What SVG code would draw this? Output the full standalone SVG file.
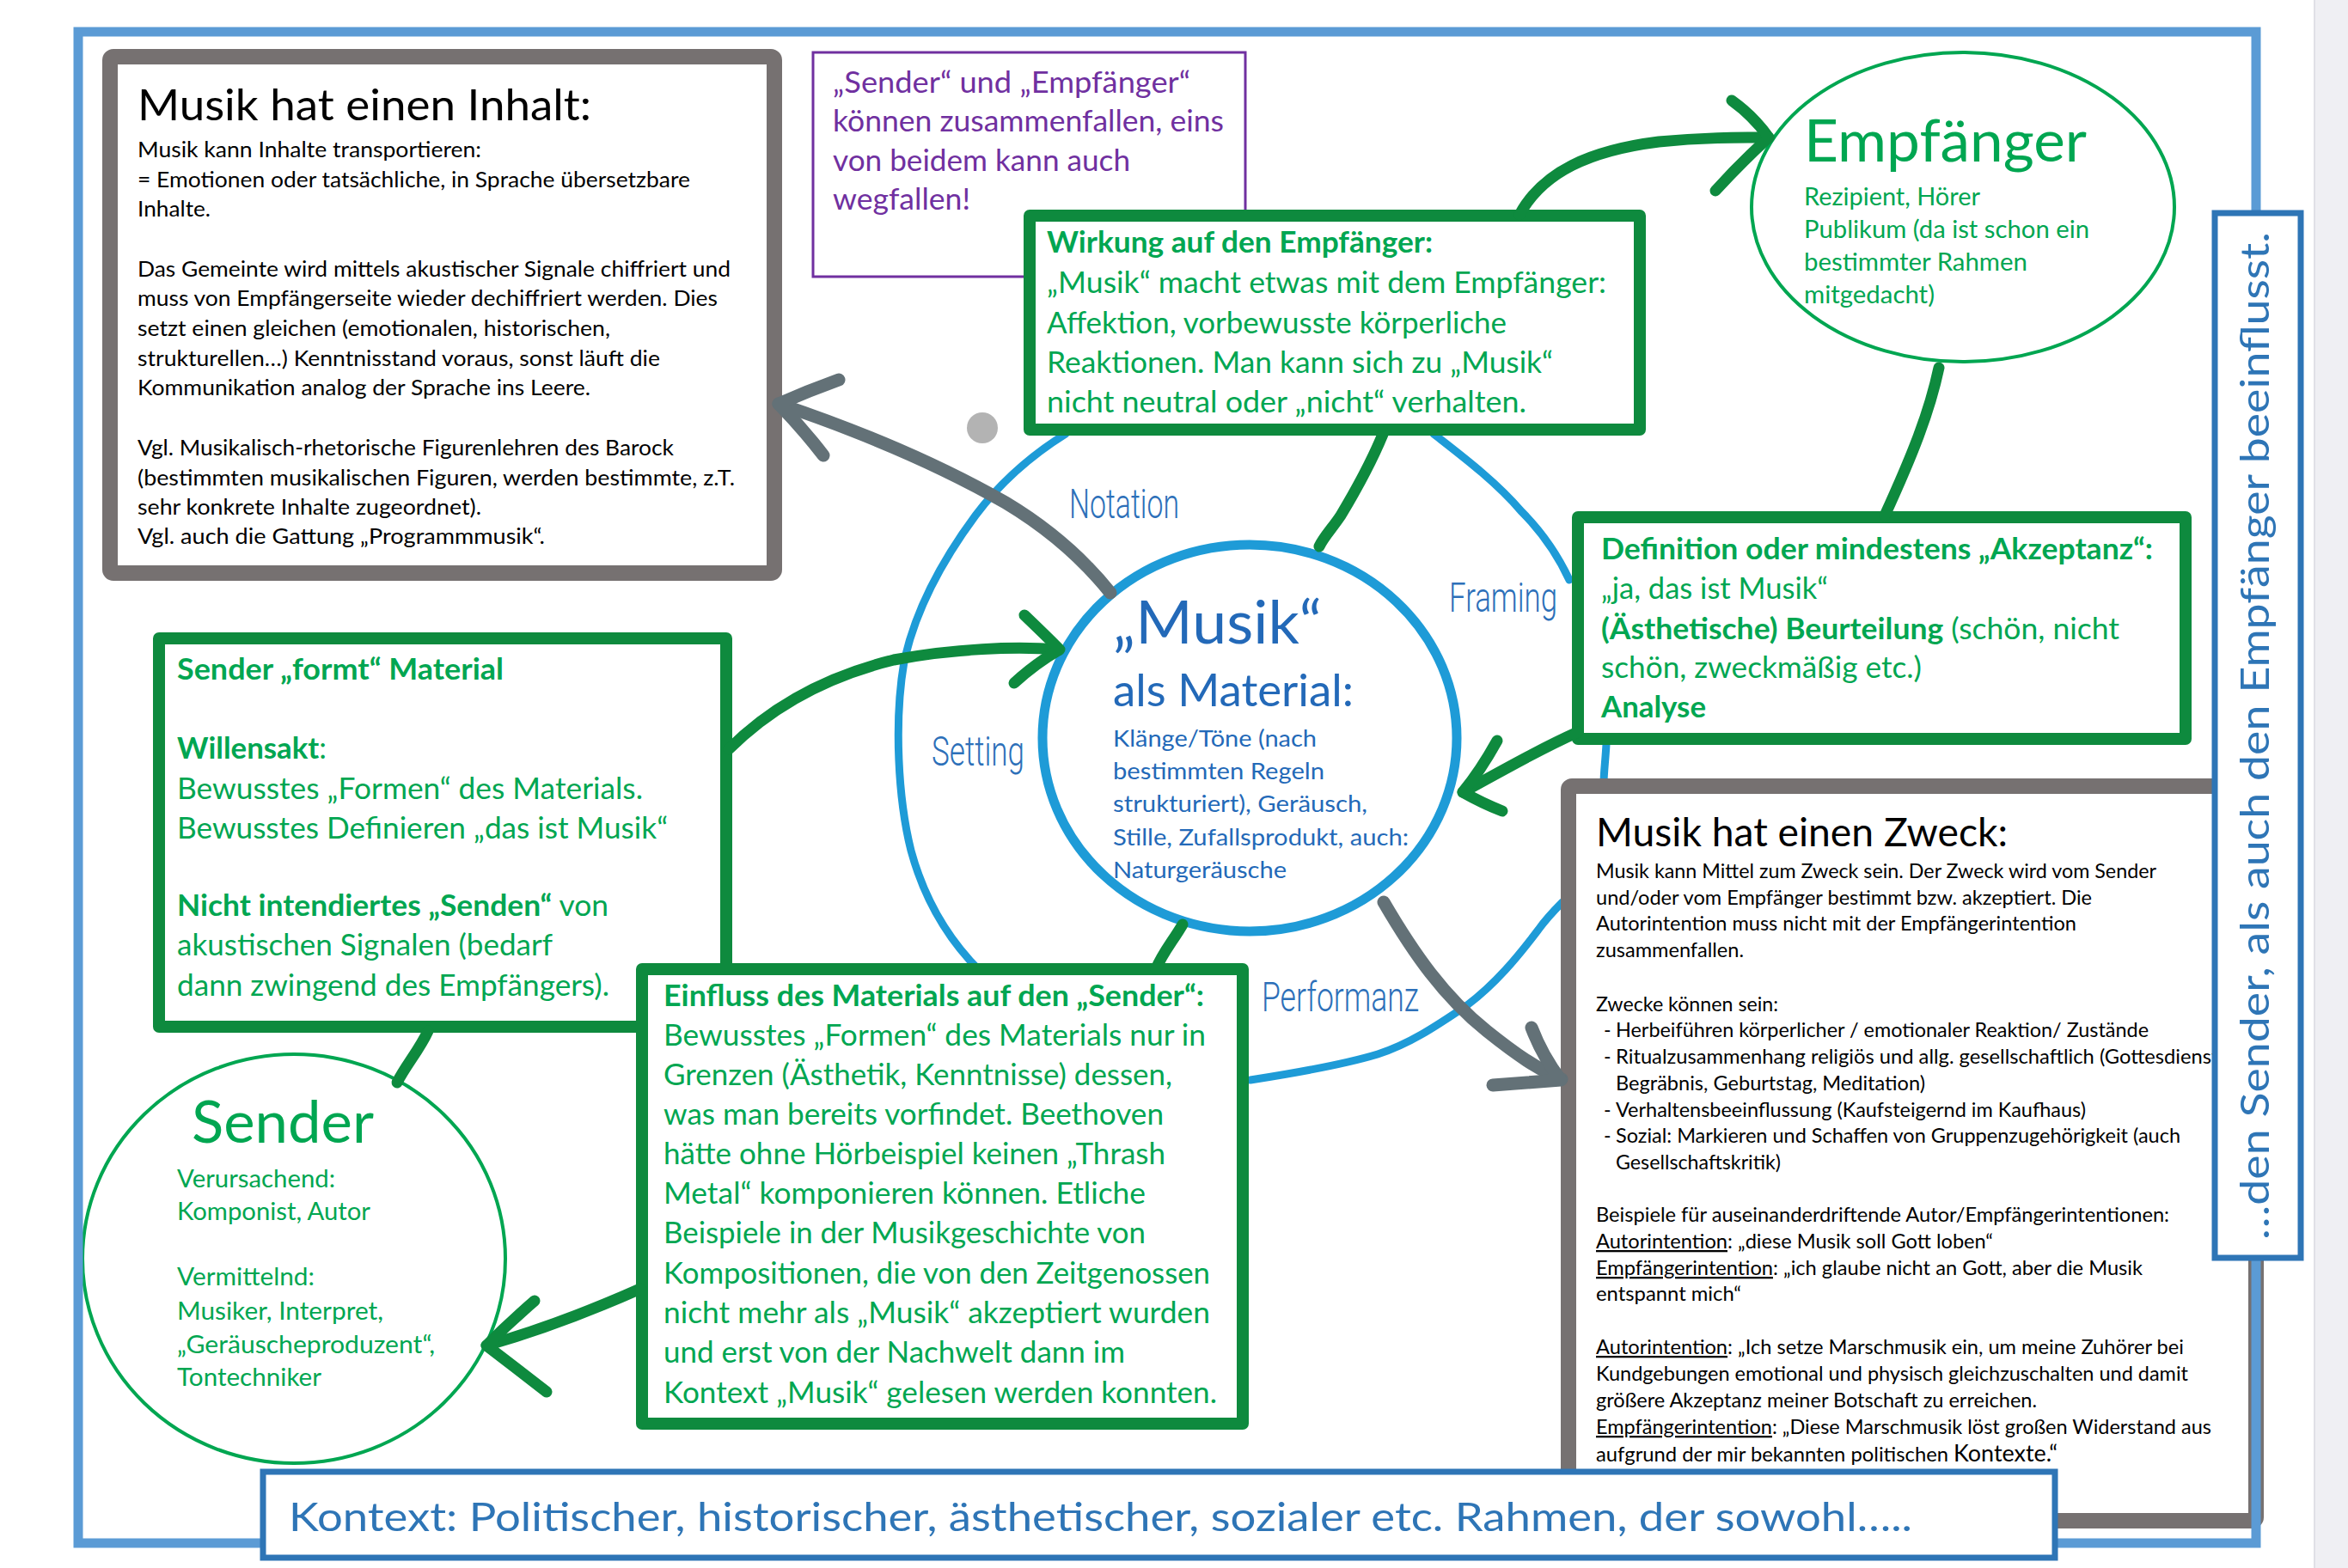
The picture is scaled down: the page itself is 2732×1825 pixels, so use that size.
<svg xmlns="http://www.w3.org/2000/svg" width="2732" height="1825" viewBox="0 0 2732 1825">
<style>
text{font-family:Lato,'Open Sans',sans-serif}
.g{fill:#00A651}
.b{font-weight:700}
.k{fill:#000}
.bl{fill:#2369B8}
.p{fill:#7030A0}
.lab{font-family:Roboto,'Liberation Sans',sans-serif;font-weight:300;fill:#2D70B9;font-size:48px}
.gbox{fill:#fff;stroke:#0E8A3E;stroke-width:14;stroke-linejoin:round}
.grey{fill:#fff;stroke:#767171;stroke-width:18;stroke-linejoin:round}
.gc{fill:none;stroke:#0E8A3E;stroke-width:13;stroke-linecap:round;stroke-linejoin:round}
.sc{fill:none;stroke:#637177;stroke-width:15;stroke-linecap:round;stroke-linejoin:round}
.loop{fill:none;stroke:#1E9BD7;stroke-width:9;stroke-linecap:round;stroke-linejoin:round}
.circ{fill:#fff;stroke:#00A651;stroke-width:4}
.u{text-decoration:underline}
</style>
<rect x="0" y="0" width="2732" height="1825" fill="#fff"/>
<rect x="2693" y="0" width="39" height="1825" fill="#EFEFF3"/>
<line x1="2693" y1="0" x2="2693" y2="1825" stroke="#E0E0E6" stroke-width="2"/>

<g id="loop">
<path class="loop" d="M1240,505 C1200,530 1165,560 1135,600 C1098,650 1065,710 1052,770 C1040,840 1045,930 1060,990 C1075,1045 1100,1090 1140,1130"/>
<path class="loop" d="M1668,505 C1700,530 1740,560 1770,595 C1795,620 1812,645 1826,675"/>
<path class="loop" d="M1869,866 C1868,885 1866,900 1866,912"/>
<path class="loop" d="M1455,1257 C1500,1250 1560,1240 1603,1227 C1640,1215 1670,1195 1707,1170 C1740,1145 1765,1115 1790,1082 C1800,1068 1810,1058 1818,1050"/>
</g>

<g id="inhalt">
<rect class="grey" x="128" y="66" width="773" height="601" rx="4"/>
<text class="k" x="160" y="140" font-size="51" textLength="528" lengthAdjust="spacingAndGlyphs">Musik hat einen Inhalt:</text>
<g class="k" font-size="25.8">
<text x="160" y="183" textLength="400" lengthAdjust="spacingAndGlyphs">Musik kann Inhalte transportieren:</text>
<text x="160" y="218" textLength="643" lengthAdjust="spacingAndGlyphs">= Emotionen oder tatsächliche, in Sprache übersetzbare</text>
<text x="160" y="252" textLength="85" lengthAdjust="spacingAndGlyphs">Inhalte.</text>
<text x="160" y="322" textLength="690" lengthAdjust="spacingAndGlyphs">Das Gemeinte wird mittels akustischer Signale chiffriert und</text>
<text x="160" y="356" textLength="675" lengthAdjust="spacingAndGlyphs">muss von Empfängerseite wieder dechiffriert werden. Dies</text>
<text x="160" y="391" textLength="550" lengthAdjust="spacingAndGlyphs">setzt einen gleichen (emotionalen, historischen,</text>
<text x="160" y="426" textLength="608" lengthAdjust="spacingAndGlyphs">strukturellen…) Kenntnisstand voraus, sonst läuft die</text>
<text x="160" y="460" textLength="527" lengthAdjust="spacingAndGlyphs">Kommunikation analog der Sprache ins Leere.</text>
<text x="160" y="530" textLength="624" lengthAdjust="spacingAndGlyphs">Vgl. Musikalisch-rhetorische Figurenlehren des Barock</text>
<text x="160" y="565" textLength="695" lengthAdjust="spacingAndGlyphs">(bestimmten musikalischen Figuren, werden bestimmte, z.T.</text>
<text x="160" y="599" textLength="400" lengthAdjust="spacingAndGlyphs">sehr konkrete Inhalte zugeordnet).</text>
<text x="160" y="633" textLength="474" lengthAdjust="spacingAndGlyphs">Vgl. auch die Gattung „Programmmusik“.</text>
</g>
</g>

<g id="hinweis">
<rect x="946" y="61" width="503" height="261" fill="#fff" stroke="#7030A0" stroke-width="3"/>
<g class="p" font-size="34">
<text x="969" y="108" textLength="416" lengthAdjust="spacingAndGlyphs">„Sender“ und „Empfänger“</text>
<text x="969" y="153" textLength="455" lengthAdjust="spacingAndGlyphs">können zusammenfallen, eins</text>
<text x="969" y="199" textLength="346" lengthAdjust="spacingAndGlyphs">von beidem kann auch</text>
<text x="969" y="244" textLength="160" lengthAdjust="spacingAndGlyphs">wegfallen!</text>
</g>
</g>

<g id="wirkung">
<rect class="gbox" x="1198" y="251" width="710" height="249"/>
<g class="g" font-size="34.5">
<text class="b" x="1218" y="294" textLength="449" lengthAdjust="spacingAndGlyphs">Wirkung auf den Empfänger:</text>
<text x="1218" y="341" textLength="651" lengthAdjust="spacingAndGlyphs">„Musik“ macht etwas mit dem Empfänger:</text>
<text x="1218" y="388" textLength="535" lengthAdjust="spacingAndGlyphs">Affektion, vorbewusste körperliche</text>
<text x="1218" y="434" textLength="589" lengthAdjust="spacingAndGlyphs">Reaktionen. Man kann sich zu „Musik“</text>
<text x="1218" y="480" textLength="558" lengthAdjust="spacingAndGlyphs">nicht neutral oder „nicht“ verhalten.</text>
</g>
</g>

<g id="empfaenger">
<ellipse class="circ" cx="2284" cy="241" rx="246" ry="180"/>
<text class="g" x="2099" y="188" font-size="68" textLength="329" lengthAdjust="spacingAndGlyphs">Empfänger</text>
<g class="g" font-size="28.5">
<text x="2099" y="239" textLength="205" lengthAdjust="spacingAndGlyphs">Rezipient, Hörer</text>
<text x="2099" y="277" textLength="332" lengthAdjust="spacingAndGlyphs">Publikum (da ist schon ein</text>
<text x="2099" y="315" textLength="260" lengthAdjust="spacingAndGlyphs">bestimmter Rahmen</text>
<text x="2099" y="353" textLength="152" lengthAdjust="spacingAndGlyphs">mitgedacht)</text>
</g>
</g>

<g id="definition">
<rect class="gbox" x="1836" y="602" width="707" height="258"/>
<g class="g" font-size="34">
<text class="b" x="1863" y="651" textLength="642" lengthAdjust="spacingAndGlyphs">Definition oder mindestens „Akzeptanz“:</text>
<text x="1863" y="697" textLength="264" lengthAdjust="spacingAndGlyphs">„ja, das ist Musik“</text>
<text x="1863" y="744" textLength="603" lengthAdjust="spacingAndGlyphs"><tspan class="b">(Ästhetische) Beurteilung</tspan> (schön, nicht</text>
<text x="1863" y="789" textLength="373" lengthAdjust="spacingAndGlyphs">schön, zweckmäßig etc.)</text>
<text class="b" x="1863" y="835" textLength="122" lengthAdjust="spacingAndGlyphs">Analyse</text>
</g>
</g>

<g id="zweck">
<rect class="grey" x="1825" y="915" width="800" height="855" rx="4"/>
<text class="k" x="1857" y="985" font-size="46" textLength="479" lengthAdjust="spacingAndGlyphs">Musik hat einen Zweck:</text>
<g class="k" font-size="23">
<text x="1857" y="1022" textLength="652" lengthAdjust="spacingAndGlyphs">Musik kann Mittel zum Zweck sein. Der Zweck wird vom Sender</text>
<text x="1857" y="1053" textLength="577" lengthAdjust="spacingAndGlyphs">und/oder vom Empfänger bestimmt bzw. akzeptiert. Die</text>
<text x="1857" y="1083" textLength="559" lengthAdjust="spacingAndGlyphs">Autorintention muss nicht mit der Empfängerintention</text>
<text x="1857" y="1114" textLength="172" lengthAdjust="spacingAndGlyphs">zusammenfallen.</text>
<text x="1857" y="1177" textLength="212" lengthAdjust="spacingAndGlyphs">Zwecke können sein:</text>
<text x="1866" y="1207">-</text>
<text x="1880" y="1207" textLength="620" lengthAdjust="spacingAndGlyphs">Herbeiführen körperlicher / emotionaler Reaktion/ Zustände</text>
<text x="1866" y="1238">-</text>
<text x="1880" y="1238" textLength="707" lengthAdjust="spacingAndGlyphs">Ritualzusammenhang religiös und allg. gesellschaftlich (Gottesdienst,</text>
<text x="1880" y="1269" textLength="360" lengthAdjust="spacingAndGlyphs">Begräbnis, Geburtstag, Meditation)</text>
<text x="1866" y="1300">-</text>
<text x="1880" y="1300" textLength="547" lengthAdjust="spacingAndGlyphs">Verhaltensbeeinflussung (Kaufsteigernd im Kaufhaus)</text>
<text x="1866" y="1330">-</text>
<text x="1880" y="1330" textLength="657" lengthAdjust="spacingAndGlyphs">Sozial: Markieren und Schaffen von Gruppenzugehörigkeit (auch</text>
<text x="1880" y="1361" textLength="192" lengthAdjust="spacingAndGlyphs">Gesellschaftskritik)</text>
<text x="1857" y="1422" textLength="667" lengthAdjust="spacingAndGlyphs">Beispiele für auseinanderdriftende Autor/Empfängerintentionen:</text>
<text x="1857" y="1453" textLength="462" lengthAdjust="spacingAndGlyphs"><tspan class="u">Autorintention</tspan>: „diese Musik soll Gott loben“</text>
<text x="1857" y="1484" textLength="636" lengthAdjust="spacingAndGlyphs"><tspan class="u">Empfängerintention</tspan>: „ich glaube nicht an Gott, aber die Musik</text>
<text x="1857" y="1514" textLength="169" lengthAdjust="spacingAndGlyphs">entspannt mich“</text>
<text x="1857" y="1576" textLength="684" lengthAdjust="spacingAndGlyphs"><tspan class="u">Autorintention</tspan>: „Ich setze Marschmusik ein, um meine Zuhörer bei</text>
<text x="1857" y="1607" textLength="689" lengthAdjust="spacingAndGlyphs">Kundgebungen emotional und physisch gleichzuschalten und damit</text>
<text x="1857" y="1638" textLength="513" lengthAdjust="spacingAndGlyphs">größere Akzeptanz meiner Botschaft zu erreichen.</text>
<text x="1857" y="1669" textLength="716" lengthAdjust="spacingAndGlyphs"><tspan class="u">Empfängerintention</tspan>: „Diese Marschmusik löst großen Widerstand aus</text>
<text x="1857" y="1701" textLength="537" lengthAdjust="spacingAndGlyphs">aufgrund der mir bekannten politischen <tspan font-size="26">Kontexte.“</tspan></text>
</g>
</g>

<g id="formt">
<rect class="gbox" x="185" y="743" width="660" height="452"/>
<g class="g" font-size="34">
<text class="b" x="206" y="791" textLength="380" lengthAdjust="spacingAndGlyphs">Sender „formt“ Material</text>
<text x="206" y="883" textLength="174" lengthAdjust="spacingAndGlyphs"><tspan class="b">Willensakt</tspan>:</text>
<text x="206" y="930" textLength="542" lengthAdjust="spacingAndGlyphs">Bewusstes „Formen“ des Materials.</text>
<text x="206" y="976" textLength="571" lengthAdjust="spacingAndGlyphs">Bewusstes Definieren „das ist Musik“</text>
<text x="206" y="1066" textLength="502" lengthAdjust="spacingAndGlyphs"><tspan class="b">Nicht intendiertes „Senden“</tspan> von</text>
<text x="206" y="1112" textLength="437" lengthAdjust="spacingAndGlyphs">akustischen Signalen (bedarf</text>
<text x="206" y="1159" textLength="503" lengthAdjust="spacingAndGlyphs">dann zwingend des Empfängers).</text>
</g>
</g>

<g id="einfluss">
<rect class="gbox" x="747" y="1128" width="699" height="529"/>
<g class="g" font-size="34">
<text class="b" x="772" y="1171" textLength="629" lengthAdjust="spacingAndGlyphs">Einfluss des Materials auf den „Sender“:</text>
<text x="772" y="1217" textLength="631" lengthAdjust="spacingAndGlyphs">Bewusstes „Formen“ des Materials nur in</text>
<text x="772" y="1263" textLength="592" lengthAdjust="spacingAndGlyphs">Grenzen (Ästhetik, Kenntnisse) dessen,</text>
<text x="772" y="1309" textLength="582" lengthAdjust="spacingAndGlyphs">was man bereits vorfindet. Beethoven</text>
<text x="772" y="1355" textLength="584" lengthAdjust="spacingAndGlyphs">hätte ohne Hörbeispiel keinen „Thrash</text>
<text x="772" y="1401" textLength="561" lengthAdjust="spacingAndGlyphs">Metal“ komponieren können. Etliche</text>
<text x="772" y="1447" textLength="561" lengthAdjust="spacingAndGlyphs">Beispiele in der Musikgeschichte von</text>
<text x="772" y="1494" textLength="636" lengthAdjust="spacingAndGlyphs">Kompositionen, die von den Zeitgenossen</text>
<text x="772" y="1540" textLength="636" lengthAdjust="spacingAndGlyphs">nicht mehr als „Musik“ akzeptiert wurden</text>
<text x="772" y="1586" textLength="537" lengthAdjust="spacingAndGlyphs">und erst von der Nachwelt dann im</text>
<text x="772" y="1633" textLength="644" lengthAdjust="spacingAndGlyphs">Kontext „Musik“ gelesen werden konnten.</text>
</g>
</g>

<g id="musik">
<ellipse cx="1454" cy="859" rx="241" ry="225" fill="#fff" stroke="#1E9BD7" stroke-width="11"/>
<text class="bl" x="1295" y="749" font-size="69" textLength="243" lengthAdjust="spacingAndGlyphs">„Musik“</text>
<text class="bl" x="1295" y="822" font-size="51.5" textLength="280" lengthAdjust="spacingAndGlyphs">als Material:</text>
<g class="bl" font-size="27.6">
<text x="1295" y="869" textLength="237" lengthAdjust="spacingAndGlyphs">Klänge/Töne (nach</text>
<text x="1295" y="907" textLength="246" lengthAdjust="spacingAndGlyphs">bestimmten Regeln</text>
<text x="1295" y="945" textLength="296" lengthAdjust="spacingAndGlyphs">strukturiert), Geräusch,</text>
<text x="1295" y="984" textLength="344" lengthAdjust="spacingAndGlyphs">Stille, Zufallsprodukt, auch:</text>
<text x="1295" y="1022" textLength="202" lengthAdjust="spacingAndGlyphs">Naturgeräusche</text>
</g>
</g>

<g id="sender">
<ellipse class="circ" cx="342" cy="1465" rx="246" ry="238"/>
<text class="g" x="223" y="1330" font-size="68" textLength="212" lengthAdjust="spacingAndGlyphs">Sender</text>
<g class="g" font-size="28.5">
<text x="206" y="1382" textLength="184" lengthAdjust="spacingAndGlyphs">Verursachend:</text>
<text x="206" y="1420" textLength="225" lengthAdjust="spacingAndGlyphs">Komponist, Autor</text>
<text x="206" y="1496" textLength="160" lengthAdjust="spacingAndGlyphs">Vermittelnd:</text>
<text x="206" y="1536" textLength="240" lengthAdjust="spacingAndGlyphs">Musiker, Interpret,</text>
<text x="206" y="1575" textLength="300" lengthAdjust="spacingAndGlyphs">„Geräuscheproduzent“,</text>
<text x="206" y="1613" textLength="168" lengthAdjust="spacingAndGlyphs">Tontechniker</text>
</g>
</g>

<g id="labels">
<text class="lab" x="1244" y="603" textLength="128" lengthAdjust="spacingAndGlyphs">Notation</text>
<text class="lab" x="1084" y="891" textLength="108" lengthAdjust="spacingAndGlyphs">Setting</text>
<text class="lab" x="1686" y="712" textLength="126" lengthAdjust="spacingAndGlyphs">Framing</text>
<text class="lab" x="1468" y="1177" textLength="183" lengthAdjust="spacingAndGlyphs">Performanz</text>
</g>

<g id="connectors">
<path class="gc" d="M1768,250 C1795,200 1850,175 1930,165 C1980,160 2020,160 2058,160"/>
<path class="gc" d="M2015,117 Q2040,135 2058,160 Q2025,190 1996,222"/>
<path class="gc" d="M1610,503 C1595,540 1575,575 1560,600 C1550,615 1540,625 1535,636"/>
<path class="gc" d="M2256,428 C2245,480 2225,530 2193,600"/>
<path class="gc" d="M1836,852 C1800,868 1760,890 1702,922"/>
<path class="gc" d="M1742,862 Q1722,898 1702,922 Q1725,935 1748,944"/>
<path class="gc" d="M848,872 C890,830 950,790 1040,768 C1110,755 1180,752 1232,756"/>
<path class="gc" d="M1192,716 Q1215,738 1233,756 Q1205,772 1180,795"/>
<path class="gc" d="M745,1500 C700,1520 640,1545 566,1566"/>
<path class="gc" d="M622,1514 Q592,1540 566,1566 Q600,1592 636,1620"/>
<path class="gc" d="M498,1200 C488,1222 472,1240 462,1260"/>
<path class="gc" d="M1376,1076 C1365,1095 1352,1110 1345,1128"/>
<path class="sc" d="M1292,690 C1260,650 1220,615 1170,585 C1100,545 1010,505 906,470"/>
<path class="sc" d="M976,442 Q940,455 906,470 Q935,500 958,530"/>
<path class="sc" d="M1610,1050 C1645,1110 1680,1160 1730,1200 C1765,1228 1790,1245 1817,1256"/>
<path class="sc" d="M1782,1196 Q1795,1230 1816,1257 L1737,1263"/>
<circle cx="1143" cy="498" r="18" fill="#B3B3B3"/>
</g>

<rect id="frame" x="91" y="37" width="2534" height="1759" fill="none" stroke="#5B9BD5" stroke-width="11"/>

<g id="sowohl">
<rect x="2577" y="248" width="100" height="1216" fill="#fff" stroke="#2E75B6" stroke-width="7"/>
<text transform="translate(2640,1443) rotate(-90)" font-size="46" fill="#2E75B6" textLength="1173" lengthAdjust="spacingAndGlyphs">…den Sender, als auch den Empfänger beeinflusst.</text>
</g>

<g id="kontext">
<rect x="306" y="1713" width="2085" height="100" fill="#fff" stroke="#2E75B6" stroke-width="7"/>
<text x="336" y="1782" font-size="46" fill="#2E75B6" textLength="1889" lengthAdjust="spacingAndGlyphs">Kontext: Politischer, historischer, ästhetischer, sozialer etc. Rahmen, der sowohl…..</text>
</g>
</svg>
